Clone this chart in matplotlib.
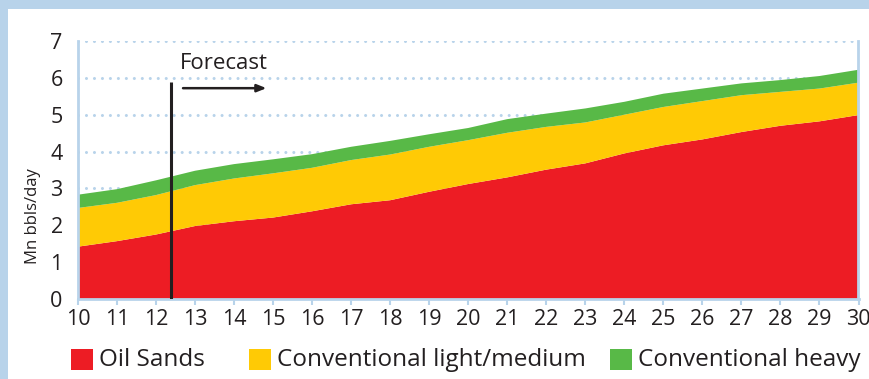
import matplotlib.pyplot as plt
from matplotlib.patches import Rectangle

# production outlook, million barrels per day
years = list(range(10, 31))
oil_sands = [1.42, 1.57, 1.75, 1.98, 2.11, 2.21, 2.38, 2.57, 2.68, 2.91, 3.12,
             3.30, 3.51, 3.68, 3.95, 4.17, 4.33, 4.53, 4.70, 4.82, 4.99]
conv_light_medium = [1.05, 1.04, 1.07, 1.11, 1.16, 1.20, 1.18, 1.20, 1.24, 1.22, 1.19,
                     1.21, 1.16, 1.11, 1.05, 1.04, 1.04, 1.00, 0.92, 0.89, 0.88]
conv_heavy = [0.36, 0.37, 0.40, 0.39, 0.39, 0.38, 0.37, 0.36, 0.37, 0.34, 0.33,
              0.37, 0.36, 0.38, 0.35, 0.36, 0.34, 0.32, 0.32, 0.34, 0.35]
series_names = ["Oil Sands", "Conventional light/medium", "Conventional heavy"]
forecast_year = 12.38

RED = "#ed1c24"
YELLOW = "#ffca05"
GREEN = "#58b947"
FRAME = "#b8d3ea"
INK = "#231f20"

plt.rcParams['font.family'] = ['Open Sans', 'DejaVu Sans']

fig = plt.figure(figsize=(8.7, 3.79), dpi=100)
fig.patch.set_facecolor(FRAME)
# white panel inside the blue frame, kept behind the axes
fig.patches.append(Rectangle((8 / 870, 0), 862 / 870, 370 / 379,
                             transform=fig.transFigure, facecolor="white",
                             edgecolor="none", zorder=-5))

ax = fig.add_axes([78 / 870, 80 / 379, 780.5 / 870, 258 / 379])
ax.set_facecolor("none")
ax.set_zorder(2)

ax.stackplot(years, oil_sands, conv_light_medium, conv_heavy,
             colors=[RED, YELLOW, GREEN], linewidth=0, zorder=2)

ax.set_xlim(10, 30)
ax.set_ylim(0, 7)
ax.set_xticks(years)
ax.set_yticks(range(0, 8))
# dotted guides
ax.grid(axis="y", color=FRAME, linestyle=(0, (0.01, 2.6)), linewidth=2.2,
        dash_capstyle="round", zorder=1)
ax.set_axisbelow(True)
ax.tick_params(axis="x", direction="out", length=4, width=1.5, color=FRAME,
               labelsize=15.5, labelcolor=INK, pad=3)
ax.tick_params(axis="y", length=0, labelsize=15.5, labelcolor=INK, pad=11)

for side in ["left", "right", "bottom"]:
    ax.spines[side].set_color(FRAME)
    ax.spines[side].set_linewidth(2)
ax.spines["top"].set_visible(False)

# forecast marker
ax.plot([forecast_year, forecast_year], [0, 5.9], color=INK, linewidth=2.2,
        zorder=4, solid_capstyle="butt")
ax.text(12.6, 6.38, "Forecast", fontsize=16, color=INK, va="center", ha="left")
ax.annotate("", xy=(14.9, 5.72), xytext=(12.62, 5.72),
            arrowprops=dict(arrowstyle="-|>,head_length=0.55,head_width=0.22",
                            color=INK, lw=1.8))

fig.text(33 / 870, 1 - 216 / 379, "Mn bbls/day", rotation=90, fontsize=12,
         color=INK, ha="center", va="center")

# legend row
legend_x = [71, 249, 610]
for x0, name, col in zip(legend_x, series_names, [RED, YELLOW, GREEN]):
    fig.patches.append(Rectangle((x0 / 870, 1 - 370 / 379), 22 / 870, 21 / 379,
                                 transform=fig.transFigure, facecolor=col,
                                 edgecolor="none"))
    fig.text((x0 + 28) / 870, 1 - 360 / 379, name, fontsize=17.5, color=INK,
             ha="left", va="center")

fig.savefig("out.png", dpi=100, facecolor=fig.get_facecolor())
